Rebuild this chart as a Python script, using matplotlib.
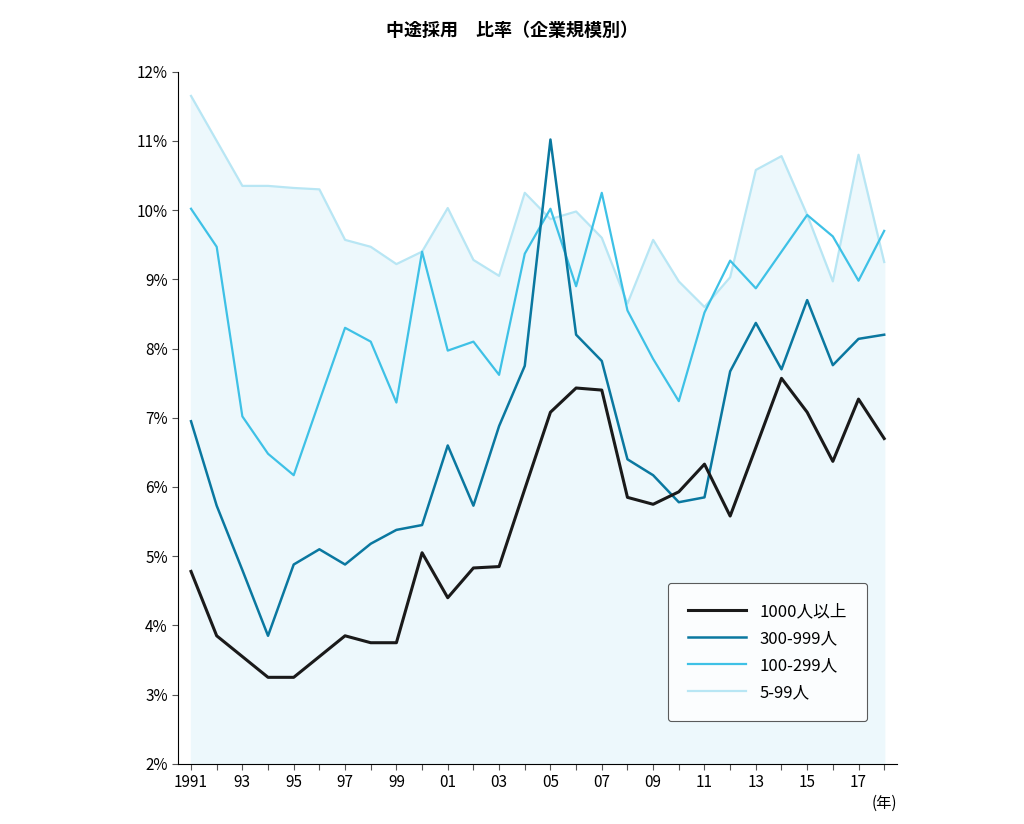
import matplotlib.pyplot as plt

plt.rcParams['font.family'] = ['Noto Sans CJK JP']

years = list(range(1991, 2019))
big = [4.78, 3.85, 3.55, 3.25, 3.25, 3.55, 3.85, 3.75, 3.75, 5.05, 4.4, 4.83, 4.85, 5.97,
       7.08, 7.43, 7.4, 5.85, 5.75, 5.93, 6.33, 5.58, 6.57, 7.57, 7.08, 6.37, 7.27, 6.7]
mid = [6.95, 5.73, 4.8, 3.85, 4.88, 5.1, 4.88, 5.18, 5.38, 5.45, 6.6, 5.73, 6.88, 7.75,
       11.02, 8.2, 7.82, 6.4, 6.17, 5.78, 5.85, 7.67, 8.37, 7.7, 8.7, 7.76, 8.14, 8.2]
small = [10.02, 9.47, 7.02, 6.48, 6.17, 7.24, 8.3, 8.1, 7.22, 9.4, 7.97, 8.1, 7.62, 9.37,
         10.02, 8.9, 10.25, 8.55, 7.85, 7.24, 8.52, 9.27, 8.87, 9.4, 9.93, 9.62, 8.98, 9.7]
tiny = [11.65, 11.0, 10.35, 10.35, 10.32, 10.3, 9.57, 9.47, 9.22, 9.4, 10.03, 9.28, 9.05, 10.25,
        9.87, 9.98, 9.6, 8.65, 9.57, 8.97, 8.6, 9.03, 10.58, 10.78, 9.93, 8.97, 10.8, 9.25]
labels = ['1000人以上', '300-999人', '100-299人', '5-99人']
xlabels = ['1991' if y == 1991 else '%02d' % (y % 100) if y % 2 == 1 else '' for y in years]

fig = plt.figure(figsize=(10.24, 8.24), dpi=100)
ax = fig.add_axes([0.174, 0.073, 0.702, 0.84])

ax.fill_between(years, 2, tiny, color='#edf8fc', zorder=0)
ax.plot(years, big, color='#1a1a1a', lw=2.2, label=labels[0], zorder=4)
ax.plot(years, mid, color='#0a78a0', lw=1.8, label=labels[1], zorder=3)
ax.plot(years, small, color='#3ec1e6', lw=1.6, label=labels[2], zorder=2)
ax.plot(years, tiny, color='#b8e6f4', lw=1.6, label=labels[3], zorder=1)

ax.set_xlim(1990.5, 2018.5)
ax.set_ylim(2, 12)
ax.set_xticks(years)
ax.set_xticklabels(xlabels, fontsize=11)
ax.set_yticks(range(2, 13))
ax.set_yticklabels(['%d%%' % v for v in range(2, 13)], fontsize=11)
ax.spines['top'].set_visible(False)
ax.spines['right'].set_visible(False)
ax.tick_params(direction='out', length=4, color='#555555')
ax.text(1.0, -0.045, '(年)', transform=ax.transAxes, ha='right', va='top', fontsize=11)

leg = ax.legend(loc='lower right', bbox_to_anchor=(0.97, 0.05), fontsize=12, frameon=True,
                fancybox=True, edgecolor='#333333', borderpad=1.2, handlelength=3.5,
                labelspacing=0.6)
leg.get_frame().set_linewidth(0.8)

fig.suptitle('中途採用　比率（企業規模別）', y=0.975, fontsize=13, fontweight='bold')
fig.savefig('out.png')
